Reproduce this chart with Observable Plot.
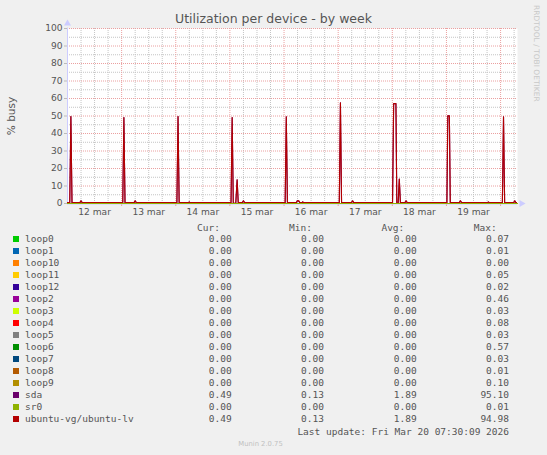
<!DOCTYPE html>
<html><head><meta charset="utf-8">
<script src="https://cdn.jsdelivr.net/npm/d3@7"></script>
<script src="https://cdn.jsdelivr.net/npm/@observablehq/plot@0.6"></script>
<style>
html,body{margin:0;padding:0;background:#f0f0f0;}
#root{position:relative;width:547px;height:455px;overflow:hidden;background:#f0f0f0;font-family:"DejaVu Sans",sans-serif;color:#555;}
#root svg{position:absolute;left:0;top:0;}
.abs{position:absolute;white-space:pre;line-height:12px;height:12px;}
.mono{font-family:"DejaVu Sans Mono",monospace;font-size:9.5px;color:#555;}
</style></head><body><div id="root"></div>
<script>
// ---- data ----
const startTime = "2026-03-12T00:00:00Z";
const endTime = "2026-03-20T07:30:00Z";
// hours since start of the window
const sampleHours = [
  0, 1.0, 1.5, 2.0, 2.5, 5.5, 6.0, 6.5,
  24.5, 25.0, 25.5, 26.0, 29.5, 30.0, 30.5,
  48.5, 49.0, 49.5, 50.0, 53.5, 54.0, 54.5,
  72.5, 73.0, 73.5, 74.6, 75.2, 75.7, 76.2, 77.5, 78.0, 78.5,
  96.5, 97.0, 97.5, 98.0, 101.5, 101.8, 102.5, 103.0, 104.0, 104.3, 104.7,
  120.5, 121.0, 121.5, 122.0, 125.9, 126.4, 126.9,
  144.1, 144.6, 145.6, 146.0, 146.6, 147.1, 147.6, 148.1, 149.6, 150.1, 150.6,
  168.2, 168.6, 169.3, 169.7, 170.2, 173.7, 174.2, 174.7, 186.1, 186.6, 187.1,
  192.8, 193.3, 193.8, 194.3, 197.8, 198.3, 198.8, 199.5
];
const lvBusy = [
  0.49, 0.49, 49.7, 0.1, 0.49, 0.49, 1.5, 0.49,
  0.49, 49.1, 0.1, 0.49, 0.49, 1.5, 0.49,
  0.49, 49.7, 0.1, 0.49, 0.49, 0.8, 0.49,
  0.49, 49.1, 0.1, 0.1, 13.5, 0.3, 0.49, 0.49, 1.5, 0.49,
  0.49, 49.5, 0.1, 0.49, 0.49, 1.5, 1.5, 0.49, 0.49, 0.9, 0.49,
  0.49, 57.5, 0.1, 0.49, 0.49, 1.5, 0.49,
  0.49, 57.1, 57.1, 0.1, 0.1, 14.0, 0.1, 0.49, 0.49, 1.5, 0.49,
  0.49, 50.1, 50.1, 0.1, 0.49, 0.49, 1.5, 0.49, 0.49, 0.8, 0.49,
  0.49, 49.5, 0.1, 0.49, 0.49, 1.5, 0.49, 0.49
];
const sdaBusy = [
  0.49, 0.49, 49.7, 0.1, 0.49, 0.49, 1.5, 0.49,
  0.49, 49.1, 0.1, 0.49, 0.49, 1.5, 0.49,
  0.49, 49.7, 0.1, 0.49, 0.49, 0.8, 0.49,
  0.49, 49.1, 0.1, 0.1, 13.5, 0.3, 0.49, 0.49, 1.5, 0.49,
  0.49, 49.5, 0.1, 0.49, 0.49, 1.5, 1.5, 0.49, 0.49, 0.9, 0.49,
  0.49, 57.5, 0.1, 0.49, 0.49, 1.5, 0.49,
  0.49, 57.1, 57.1, 0.1, 0.1, 14.0, 0.1, 0.49, 0.49, 1.5, 0.49,
  0.49, 50.1, 50.1, 0.1, 0.49, 0.49, 1.5, 0.49, 0.49, 0.8, 0.49,
  0.49, 49.5, 0.1, 0.49, 0.49, 1.5, 0.49, 0.49
];
// idle devices: flat at zero across the window
const idleHours = [0, 199.5];
const idleBusy = [0, 0];

const seriesNames = ["loop0","loop1","loop10","loop11","loop12","loop2","loop3","loop4","loop5","loop6","loop7","loop8","loop9","sda","sr0","ubuntu-vg/ubuntu-lv"];
const seriesColors = ["#00cc00","#0066b3","#ff8000","#ffcc00","#330099","#990099","#ccff00","#ff0000","#808080","#008f00","#00487d","#b35a00","#b38f00","#6b006b","#8fb300","#b30000"];
const curValues = [0,0,0,0,0,0,0,0,0,0,0,0,0,0.49,0,0.49];
const minValues = [0,0,0,0,0,0,0,0,0,0,0,0,0,0.13,0,0.13];
const avgValues = [0,0,0,0,0,0,0,0,0,0,0,0,0,1.89,0,1.89];
const maxValues = [0.07,0.01,0.00,0.05,0.02,0.46,0.03,0.08,0.03,0.57,0.03,0.01,0.10,95.10,0.01,94.98];

const yMajorTicks = [0,10,20,30,40,50,60,70,80,90,100];
const yMinorTicks = [5,15,25,35,45,55,65,75,85,95];
const dayLabels = ["12 mar","13 mar","14 mar","15 mar","16 mar","17 mar","18 mar","19 mar"];
const dayLabelTimes = ["2026-03-12T12:00:00Z","2026-03-13T12:00:00Z","2026-03-14T12:00:00Z","2026-03-15T12:00:00Z","2026-03-16T12:00:00Z","2026-03-17T12:00:00Z","2026-03-18T12:00:00Z","2026-03-19T12:00:00Z"];
const dayBoundaries = ["2026-03-13T00:00:00Z","2026-03-14T00:00:00Z","2026-03-15T00:00:00Z","2026-03-16T00:00:00Z","2026-03-17T00:00:00Z","2026-03-18T00:00:00Z","2026-03-19T00:00:00Z","2026-03-20T00:00:00Z"];

// ---- build ----
const t0 = new Date(startTime), t1 = new Date(endTime);
const toDate = h => new Date(t0.getTime() + h * 3600e3);
const lvData = sampleHours.map((h, i) => ({t: toDate(h), v: lvBusy[i]}));
const sdaData = sampleHours.map((h, i) => ({t: toDate(h), v: sdaBusy[i]}));
const idleData = [];
seriesNames.forEach((n, k) => {
  if (n === "sda" || n === "ubuntu-vg/ubuntu-lv") return;
  idleHours.forEach((h, i) => idleData.push({t: toDate(h), v: idleBusy[i], s: n}));
});
const majorX = dayBoundaries.map(d => new Date(d));
const minorX = d3.utcHour.every(6).range(t0, t1).filter(d => d.getUTCHours() !== 0);
const labelX = dayLabelTimes.map(d => new Date(d));

const chart = Plot.plot({
  width: 547, height: 222,
  marginLeft: 67, marginRight: 30, marginTop: 28, marginBottom: 19,
  style: {fontFamily: "DejaVu Sans", fontSize: "9.1px", background: "transparent", color: "#555", overflow: "visible"},
  x: {type: "utc", domain: [t0, t1]},
  y: {type: "linear", domain: [0, 100]},
  color: {domain: seriesNames, range: seriesColors},
  marks: [
    Plot.frame({fill: "white", stroke: "none"}),
    Plot.ruleY(yMinorTicks, {stroke: "#c4c4c4", strokeDasharray: "1,1"}),
    Plot.ruleX(minorX, {stroke: "#c4c4c4", strokeDasharray: "1,1"}),
    Plot.ruleY(yMajorTicks.filter(d => d > 0), {stroke: "#eba0a0", strokeDasharray: "1,1"}),
    Plot.ruleX(majorX, {stroke: "#eba0a0", strokeDasharray: "1,1"}),
    Plot.axisY({ticks: yMajorTicks, tickSize: 3, tickPadding: 2, stroke: "#bbb", fill: "#555", label: null}),
    Plot.axisX({ticks: labelX, tickFormat: (d, i) => dayLabels[i], tickSize: 0, tickPadding: 5, fill: "#555", label: null}),
    Plot.ruleX(majorX, {y1: 0, y2: 0, insetBottom: -3, stroke: "#eba0a0"}),
    Plot.text(["% busy"], {frameAnchor: "left", textAnchor: "middle", text: d => d, rotate: -90, dx: -56, fontSize: 10.5, fill: "#555"}),
    Plot.ruleX([t0], {y1: 0, y2: 100, stroke: "#ccccff", dy: -0.5}),
    Plot.dot([t0], {x: d => d, frameAnchor: "top", symbol: "triangle", r: 2.6, fill: "#ccccff", stroke: "none", dy: -5}),
    Plot.ruleY([0], {x1: t0, x2: t1, stroke: "#ccccff", dy: 0.5}),
    Plot.dot([t1], {x: d => d, frameAnchor: "bottom", symbol: "triangle", r: 2.6, rotate: 90, fill: "#ccccff", stroke: "none", dx: 4}),
    Plot.line(idleData, {x: "t", y: "v", z: "s", stroke: "s", strokeWidth: 1}),
    Plot.line(sdaData, {x: "t", y: "v", stroke: seriesColors[13], strokeWidth: 1.1, clip: true}),
    Plot.line(lvData, {x: "t", y: "v", stroke: seriesColors[15], strokeWidth: 1.1, clip: true})
  ]
});
const root = document.getElementById("root");
root.appendChild(chart);

function place(text, cls, opts) {
  const el = document.createElement("div");
  el.className = "abs " + (cls || "");
  el.textContent = text;
  Object.assign(el.style, opts);
  root.appendChild(el);
  return el;
}
// title
place("Utilization per device - by week", "", {left: "0px", width: "547px", textAlign: "center", top: "12px", fontSize: "12.5px", lineHeight: "14px", height: "14px", color: "#555"});
// rrdtool credit
place("RRDTOOL / TOBI OETIKER", "", {left: "531px", top: "5px", fontSize: "7.5px", lineHeight: "10px", height: "10px", color: "#c8c8c8", writingMode: "vertical-rl"});

// legend
const colRight = [231.7, 324, 416.7, 509];
const headRight = [220, 312, 404.3, 496.7];
const heads = ["Cur:", "Min:", "Avg:", "Max:"];
heads.forEach((h, j) => place(h, "mono", {right: (547 - headRight[j]) + "px", top: (228 - 6) + "px", textAlign: "right"}));
seriesNames.forEach((n, i) => {
  const yc = 239.3 + 12 * i;
  const sw = document.createElement("div");
  Object.assign(sw.style, {position: "absolute", left: "13px", top: (yc - 3) + "px", width: "6px", height: "6px", background: seriesColors[i]});
  root.appendChild(sw);
  place(n, "mono", {left: "25px", top: (yc - 6) + "px"});
  [curValues, minValues, avgValues, maxValues].forEach((arr, j) => {
    place(arr[i].toFixed(2), "mono", {right: (547 - colRight[j]) + "px", top: (yc - 6) + "px", textAlign: "right"});
  });
});
place("Last update: Fri Mar 20 07:30:09 2026", "mono", {right: (547 - 509) + "px", top: (431.7 - 6) + "px", textAlign: "right"});
place("Munin 2.0.75", "", {left: "0px", width: "521px", textAlign: "center", top: (444.3 - 6) + "px", fontSize: "6.8px", color: "#c0c0c0"});
</script></body></html>
